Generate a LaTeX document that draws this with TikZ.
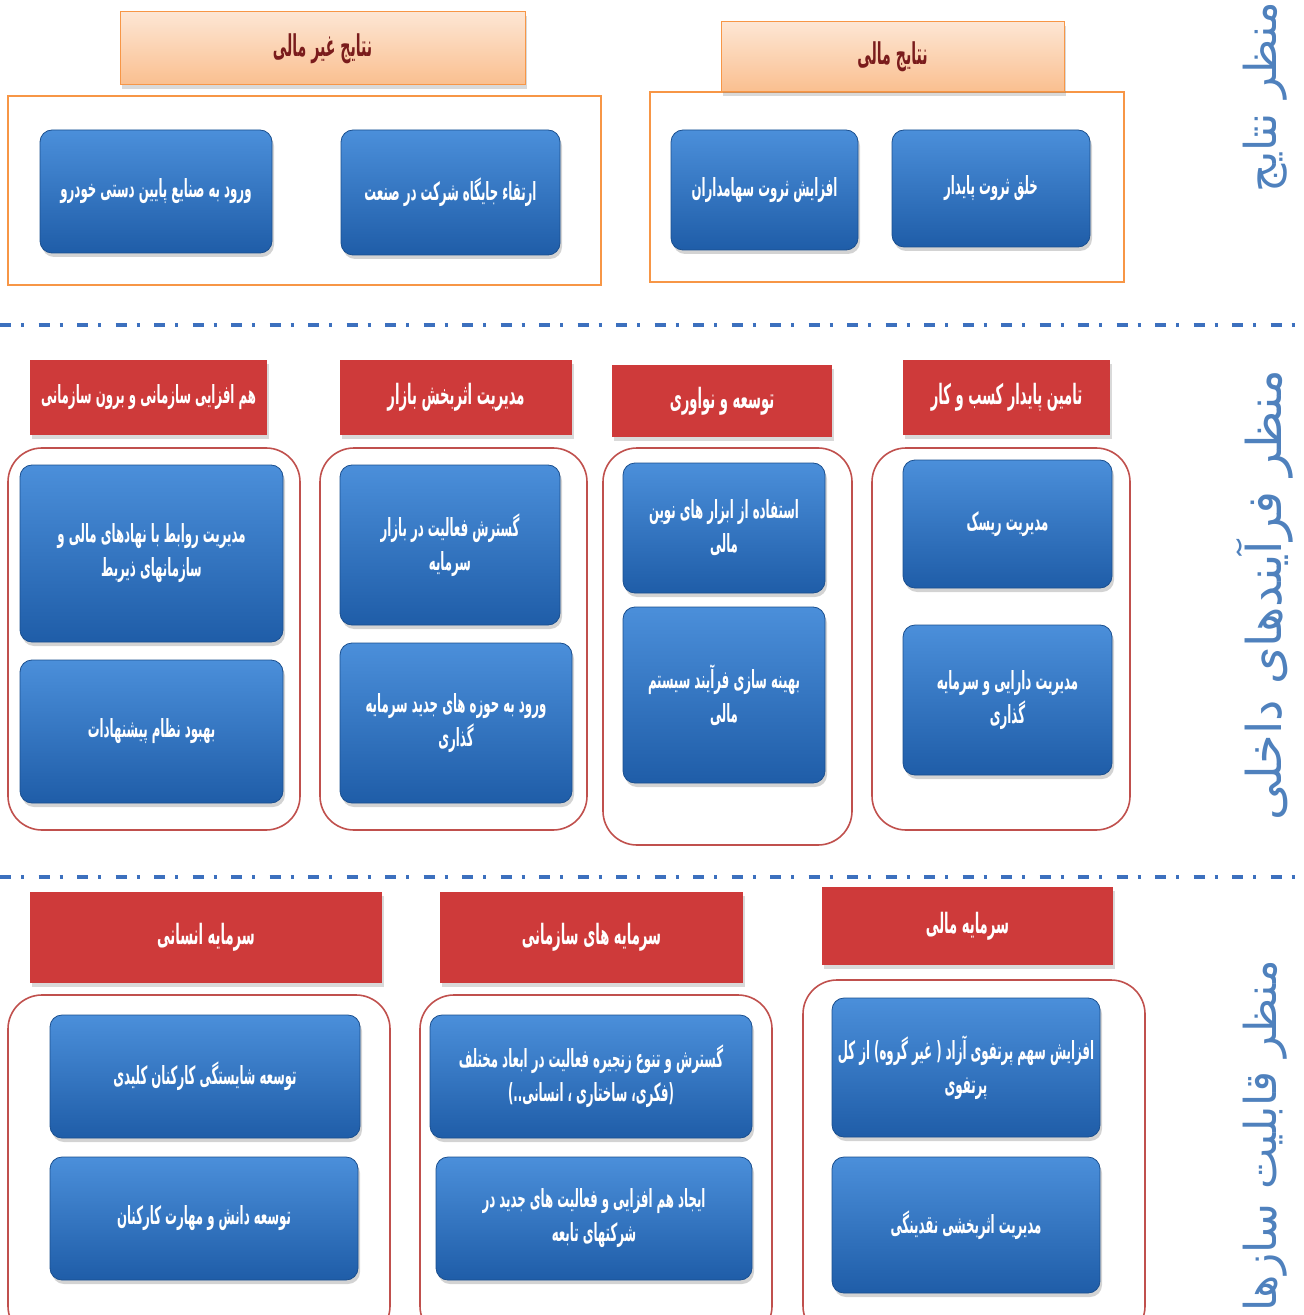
\documentclass[tikz,border=0pt]{standalone}
\usepackage{fontspec}
\usetikzlibrary{shadows}
\TeXXeTstate=1
\newfontfamily\farsi[Script=Arabic,FakeStretch=0.47]{DejaVu Sans}
\newfontfamily\farsiside[Script=Arabic]{DejaVu Sans}
\newcommand{\fa}[1]{\beginR #1\endR}

\definecolor{bluetop}{HTML}{4B8FDA}
\definecolor{bluebot}{HTML}{1F5DA8}
\definecolor{redfill}{HTML}{CE3A3A}
\definecolor{redline}{HTML}{C0504D}
\definecolor{orangeline}{HTML}{F79646}
\definecolor{peachtop}{HTML}{FDE6D4}
\definecolor{peachbot}{HTML}{FABF8F}
\definecolor{darkred}{HTML}{7A1C1C}
\definecolor{sideblue}{HTML}{4F81BD}
\definecolor{sepblue}{HTML}{3C70BE}

\tikzset{
	bluebox/.style={rounded corners=6pt, top color=bluetop, bottom color=bluebot, draw=bluebot!85!black, line width=0.4pt,
		text=white, align=center, inner sep=2pt, font=\farsi\bfseries\fontsize{12.5}{17}\selectfont,
		drop shadow={shadow xshift=1pt, shadow yshift=-2pt, opacity=0.35}},
	redhead/.style={fill=redfill, text=white, align=center, inner sep=2pt, font=\farsi\bfseries\fontsize{14}{17}\selectfont,
		drop shadow={shadow xshift=1pt, shadow yshift=-2pt, opacity=0.3}},
	orangehead/.style={top color=peachtop, bottom color=peachbot, draw=orangeline, line width=0.5pt, text=darkred,
		inner sep=2pt, font=\farsi\bfseries\fontsize{15}{17}\selectfont,
		drop shadow={shadow xshift=1pt, shadow yshift=-2pt, opacity=0.3}},
	orangeframe/.style={draw=orangeline, line width=1.2pt},
	roundframe/.style={draw=redline, line width=0.8pt, rounded corners=17pt},
	sidelabel/.style={rotate=90, text=sideblue, inner sep=0pt, font=\farsiside\fontsize{22}{26}\selectfont},
	sepline/.style={draw=sepblue, line width=2.2pt, dash pattern=on 5.5pt off 5pt on 1.5pt off 7.25pt}
}

\begin{document}
\begin{tikzpicture}[x=0.5pt,y=-0.5pt]
		%%%%% START %%%%%
		\useasboundingbox (0,0) rectangle (1304,1315);
		\clip (0,0) rectangle (1304,1315);
		
		% results perspective
		\draw[orangeframe] (8,96) rectangle (601,285);
		\draw[orangeframe] (650,92) rectangle (1124,282);
		
		\node[orangehead, minimum width=202.5pt, minimum height=36.5pt] (nfHead) at (322.5,48.5) {\fa{نتایج غیر مالی}};
		\node[orangehead, minimum width=171.5pt, minimum height=35pt] (fHead) at (892.5,57) {\fa{نتایج مالی}};
		
		\node[bluebox, minimum width=116pt, minimum height=61.5pt] (nfIndustry) at (156,191.5) {\fa{ورود به صنایع پایین دستی خودرو}};
		\node[bluebox, minimum width=109.5pt, minimum height=62.5pt] (nfRank) at (450.5,192.5) {\fa{ارتقاء جایگاه شرکت در صنعت}};
		\node[bluebox, minimum width=93.5pt, minimum height=60pt] (fShare) at (764.5,190) {\fa{افزایش ثروت سهامداران}};
		\node[bluebox, minimum width=99pt, minimum height=58.5pt] (fWealth) at (991,188.5) {\fa{خلق ثروت پایدار}};
		
		\draw[sepline] (0,325) -- (1304,325);
		
		% internal processes perspective
		\draw[roundframe] (8,448) rectangle (300,830);
		\draw[roundframe] (320,448) rectangle (587,830);
		\draw[roundframe] (603,448) rectangle (852,845);
		\draw[roundframe] (872,448) rectangle (1130,830);
		
		\node[redhead, minimum width=118.5pt, minimum height=37.5pt, font=\farsi\bfseries\fontsize{12.5}{17}\selectfont] (synHead) at (148.5,397.5) {\fa{هم افزایی سازمانی و برون سازمانی}};
		\node[redhead, minimum width=116pt, minimum height=37.5pt] (mktHead) at (456,397.5) {\fa{مدیریت اثربخش بازار}};
		\node[redhead, minimum width=110pt, minimum height=36pt] (innHead) at (722,401) {\fa{توسعه و نواوری}};
		\node[redhead, minimum width=103.5pt, minimum height=37.5pt] (supHead) at (1006.5,397.5) {\fa{تامین پایدار کسب و کار}};
		
		\node[bluebox, minimum width=131.5pt, minimum height=88.5pt] (synRel) at (151.5,553.5) {\fa{مدیریت روابط با نهادهای مالی و}\\\fa{سازمانهای ذیربط}};
		\node[bluebox, minimum width=131.5pt, minimum height=71.5pt] (synSugg) at (151.5,731.5) {\fa{بهبود نظام پیشنهادات}};
		\node[bluebox, minimum width=110pt, minimum height=80pt] (mktCap) at (450,545) {\fa{گسترش فعالیت در بازار}\\\fa{سرمایه}};
		\node[bluebox, minimum width=116pt, minimum height=80pt] (mktInv) at (456,723) {\fa{ورود به حوزه های جدید سرمایه}\\\fa{گذاری}};
		\node[bluebox, minimum width=101pt, minimum height=65pt] (innTools) at (724,528) {\fa{استفاده از ابزار های نوین}\\\fa{مالی}};
		\node[bluebox, minimum width=101pt, minimum height=88pt] (innOpt) at (724,695) {\fa{بهینه سازی فرآیند سیستم}\\\fa{مالی}};
		\node[bluebox, minimum width=104.5pt, minimum height=64pt] (supRisk) at (1007.5,524) {\fa{مدیریت ریسک}};
		\node[bluebox, minimum width=104.5pt, minimum height=75pt] (supAsset) at (1007.5,700) {\fa{مدیریت دارایی و سرمایه}\\\fa{گذاری}};
		
		\draw[sepline] (0,877) -- (1304,877);
		
		% organisational capability perspective
		\draw[roundframe] (8,995) rectangle (390,1340);
		\draw[roundframe] (420,995) rectangle (772,1340);
		\draw[roundframe] (803,980) rectangle (1145,1340);
		
		\node[redhead, minimum width=176pt, minimum height=45.5pt] (humHead) at (206,937.5) {\fa{سرمایه انسانی}};
		\node[redhead, minimum width=151.5pt, minimum height=45.5pt] (orgHead) at (591.5,937.5) {\fa{سرمایه های سازمانی}};
		\node[redhead, minimum width=145.5pt, minimum height=39pt] (finHead) at (967.5,926) {\fa{سرمایه مالی}};
		
		\node[bluebox, minimum width=155pt, minimum height=61.5pt] (humComp) at (205,1076.5) {\fa{توسعه شایستگی کارکنان کلیدی}};
		\node[bluebox, minimum width=154pt, minimum height=61.5pt] (humSkill) at (204,1218.5) {\fa{توسعه دانش و مهارت کارکنان}};
		\node[bluebox, minimum width=161pt, minimum height=61.5pt] (orgChain) at (591,1076.5) {\fa{گسترش و تنوع زنجیره فعالیت در ابعاد مختلف}\\\fa{(فکری، ساختاری ، انسانی..)}};
		\node[bluebox, minimum width=158pt, minimum height=61.5pt] (orgSub) at (594,1218.5) {\fa{ایجاد هم افزایی و فعالیت های جدید در}\\\fa{شرکتهای تابعه}};
		\node[bluebox, minimum width=134pt, minimum height=69.5pt] (finPort) at (966,1067.5) {\fa{افزایش سهم پرتفوی آزاد ( غیر گروه) از کل}\\\fa{پرتفوی}};
		\node[bluebox, minimum width=134pt, minimum height=68pt] (finCash) at (966,1225) {\fa{مدیریت اثربخشی نقدینگی}};
		
		% perspective titles
		\node[sidelabel] (sideRes) at (1265,97) {\fa{منظر نتایج}};
		\node[sidelabel, font=\farsiside\fontsize{24}{28}\selectfont] (sideProc) at (1265,595) {\fa{منظر فرآیندهای داخلی}};
		\node[sidelabel, anchor=east] (sideCap) at (1265,960) {\fa{منظر قابلیت سازها}};
		
		%%%%% END %%%%%
	\end{tikzpicture}
\end{document}
